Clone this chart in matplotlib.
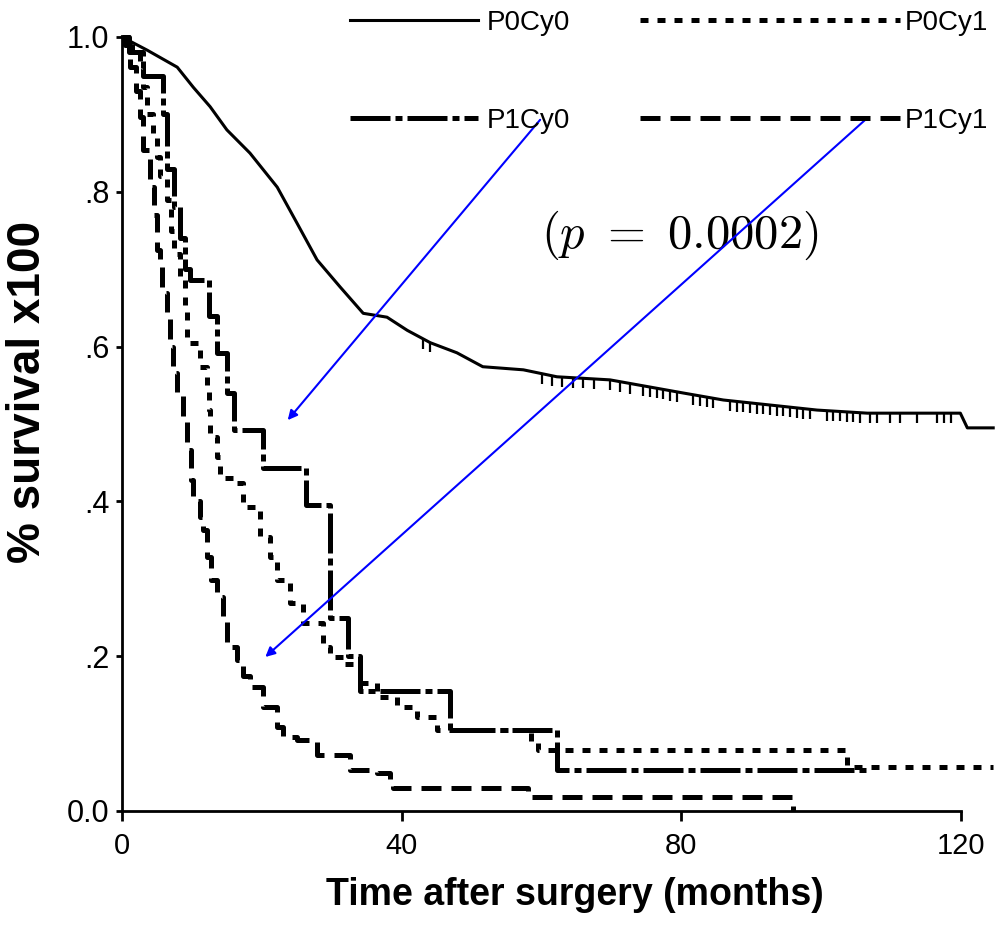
import matplotlib
matplotlib.use('Agg')
import matplotlib.pyplot as plt
import numpy as np
from matplotlib.markers import TICKDOWN

# Kaplan-Meier curves (months, survival fraction)
p0cy0_t = [0, 3.6, 7.9, 10.2, 12.6, 15.0, 18.3, 22.2, 25.0, 27.9, 31.2, 34.5, 37.9,
           40.8, 44.1, 47.9, 51.6, 57.4, 62.2, 69.8, 80.3, 86.0, 99.4, 106.6, 119.9,
           120.9, 124.6]
p0cy0_s = [1.0, 0.983, 0.961, 0.935, 0.910, 0.880, 0.850, 0.806, 0.760, 0.712, 0.677,
           0.643, 0.638, 0.621, 0.605, 0.592, 0.574, 0.570, 0.561, 0.557, 0.540, 0.531,
           0.518, 0.514, 0.514, 0.495, 0.495]
# censored observations on P0Cy0
p0cy0_cens = [43, 44, 60, 61.5, 63, 64.5, 66, 67.5, 69.8, 71.2, 72.7, 74.5, 75.5, 76.5,
              77.4, 78.4, 79.4, 81.7, 82.7, 83.7, 84.5, 87.0, 88.0, 88.8, 89.8, 90.8,
              91.7, 92.7, 93.7, 94.6, 95.6, 96.6, 97.4, 98.4, 100.9, 101.7, 102.7,
              103.7, 104.6, 105.6, 107.0, 108.0, 109.9, 111.3, 113.7, 116.6, 117.5, 118.5]

p0cy1_t = [0, 1.5, 2.6, 3.0, 3.6, 4.4, 5.0, 5.4, 6.4, 7.0, 7.5, 8.3, 9.0, 9.3, 9.7, 11.2,
           12.2, 12.4, 12.6, 13.6, 14.0, 15.9, 17.3, 19.7, 21.2, 22.2, 24.0, 25.9, 28.8,
           29.8, 31.6, 34.0, 36.5, 39.3, 42.2, 45.1, 58.5, 59.5, 103.7, 124.6]
p0cy1_s = [1.0, 0.98, 0.96, 0.935, 0.90, 0.876, 0.845, 0.82, 0.79, 0.75, 0.72, 0.69, 0.65,
           0.61, 0.605, 0.574, 0.544, 0.518, 0.483, 0.457, 0.43, 0.424, 0.393, 0.354,
           0.328, 0.298, 0.269, 0.243, 0.212, 0.199, 0.19, 0.165, 0.147, 0.134, 0.121,
           0.105, 0.088, 0.079, 0.057, 0.057]

p1cy0_t = [0, 1.0, 3.0, 5.9, 6.5, 7.5, 8.3, 9.0, 9.7, 12.5, 13.6, 15.0, 16.0, 20.2, 26.3,
           29.8, 32.3, 34.0, 46.9, 62.2, 107.0]
p1cy0_s = [1.0, 0.98, 0.95, 0.90, 0.83, 0.78, 0.74, 0.70, 0.686, 0.64, 0.592, 0.54, 0.492,
           0.443, 0.395, 0.25, 0.20, 0.155, 0.105, 0.053, 0.053]

p1cy1_t = [0, 0.5, 1.1, 2.0, 2.6, 3.0, 4.0, 4.6, 5.0, 5.4, 5.7, 6.4, 6.8, 7.3, 7.9, 8.7,
           9.3, 9.8, 10.2, 11.2, 11.6, 12.2, 12.8, 13.6, 14.4, 15.0, 16.5, 17.3, 18.3,
           20.2, 22.2, 23.0, 25.0, 27.9, 32.6, 36.5, 38.3, 38.8, 58.0, 96.0]
p1cy1_s = [1.0, 0.99, 0.961, 0.93, 0.897, 0.854, 0.806, 0.77, 0.725, 0.703, 0.669, 0.638,
           0.600, 0.566, 0.540, 0.509, 0.466, 0.428, 0.40, 0.380, 0.363, 0.328, 0.298,
           0.276, 0.247, 0.212, 0.195, 0.175, 0.160, 0.134, 0.109, 0.096, 0.092, 0.072,
           0.053, 0.049, 0.040, 0.030, 0.018, 0.0]

x_ticks = [0, 40, 80, 120]
y_ticks = [0.0, 0.2, 0.4, 0.6, 0.8, 1.0]
y_ticklabels = ['0.0', '.2', '.4', '.6', '.8', '1.0']

plt.rcParams['font.family'] = ['Liberation Sans', 'DejaVu Sans']
plt.rcParams['mathtext.fontset'] = 'cm'

fig = plt.figure(figsize=(10.05, 9.27), dpi=100)
ax = fig.add_axes([122 / 1005, 116 / 927, 874 / 1005, 774 / 927])

lw = 3.6
h0, = ax.plot(p0cy0_t, p0cy0_s, color='black', lw=2.2, label='P0Cy0', clip_on=False)
ax.plot(p0cy0_cens, np.interp(p0cy0_cens, p0cy0_t, p0cy0_s), ls='none',
        marker=TICKDOWN, ms=7, mew=1.6, color='black', clip_on=False)
h1, = ax.step(p0cy1_t, p0cy1_s, where='post', color='black', lw=lw,
              ls=(0, (1.6, 1.8)), label='P0Cy1', clip_on=False)
h2, = ax.step(p1cy0_t, p1cy0_s, where='post', color='black', lw=lw,
              ls=(0, (8, 1, 1.4, 1)), label='P1Cy0', clip_on=False)
h3, = ax.step(p1cy1_t, p1cy1_s, where='post', color='black', lw=lw,
              ls=(0, (4, 2)), label='P1Cy1', clip_on=False)

ax.set_xlim(0, 125)
ax.set_ylim(0, 1.0)
for side in ['top', 'right']:
    ax.spines[side].set_visible(False)
ax.spines['bottom'].set_bounds(0, 120)
ax.spines['left'].set_bounds(0, 1.0)
for side in ['bottom', 'left']:
    ax.spines[side].set_linewidth(2)
ax.set_xticks(x_ticks)
ax.set_yticks(y_ticks)
ax.set_yticklabels(y_ticklabels)
ax.tick_params(axis='x', direction='out', length=7, width=2, labelsize=21, pad=8)
ax.tick_params(axis='y', direction='out', length=4, width=2, labelsize=22, pad=5)

ax.set_ylabel('% survival x100', fontsize=33, fontweight='bold')
ax.yaxis.set_label_coords(-0.082, 0.541)
ax.set_xlabel('Time after surgery (months)', fontsize=27, fontweight='bold')
ax.xaxis.set_label_coords(0.518, -0.085)

fig.legend([h0, h2], ['P0Cy0', 'P1Cy0'], loc='upper left',
           bbox_to_anchor=(350 / 1005, 1 - 10 / 927), frameon=False, fontsize=20,
           handlelength=4.6, handletextpad=0.32, labelspacing=2.6,
           borderpad=0, borderaxespad=0)
fig.legend([h1, h3], ['P0Cy1', 'P1Cy1'], loc='upper left',
           bbox_to_anchor=(640 / 1005, 1 - 10 / 927), frameon=False, fontsize=20,
           handlelength=9.35, handletextpad=0.18, labelspacing=2.6,
           borderpad=0, borderaxespad=0)

ax.text(79.8, 0.744, r'$(p\ =\ 0.0002)$', fontsize=35, ha='center', va='center')

arrow = dict(arrowstyle='-|>', color='blue', lw=1.5, mutation_scale=14,
             shrinkA=0, shrinkB=0)
ax.annotate('', xy=(23.7, 0.505), xytext=(59.8, 0.893), arrowprops=arrow,
            annotation_clip=False)
ax.annotate('', xy=(20.5, 0.199), xytext=(106.3, 0.893), arrowprops=arrow,
            annotation_clip=False)

fig.savefig('out.png', dpi=100)
